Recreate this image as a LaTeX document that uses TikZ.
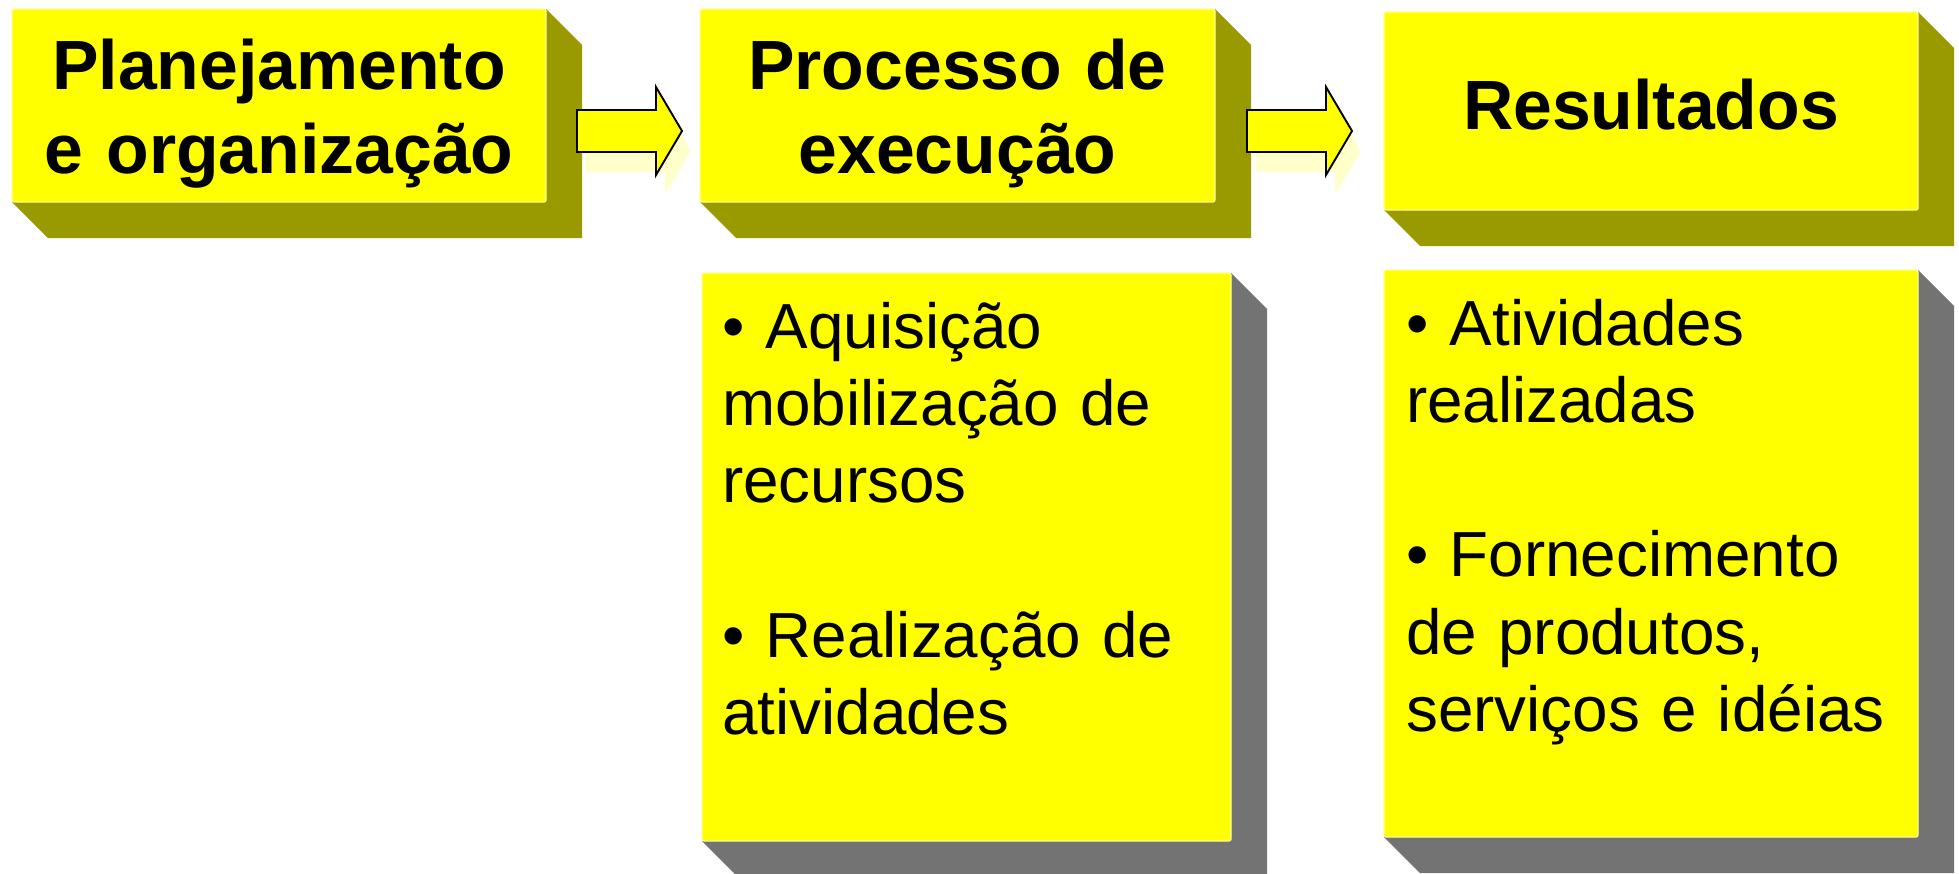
\documentclass[tikz,border=0pt]{standalone}
\usepackage{fontspec}
\setmainfont{Liberation Sans}
\definecolor{olivedepth}{HTML}{999900}
\definecolor{greydepth}{HTML}{737373}
\definecolor{faceyellow}{HTML}{FFFF00}
\definecolor{edgeyellow}{HTML}{FFFF99}
\definecolor{arrowshade}{HTML}{FFFFCC}
\pgfdeclarelayer{background}
\pgfsetlayers{background,main}
% block arrow outline starting at the middle of the shaft's left end
\newcommand{\blockarrowpath}[3]{([shift={(#2,#3-21)}]#1) -- ++(79,0) -- ++(0,-23) -- ++(26,44) -- ++(-26,44) -- ++(0,-23) -- ++(-79,0) -- cycle}
% 3D depth behind a face node
\newcommand{\depthof}[2]{%
  \begin{pgfonlayer}{background}
    \fill[#2] (#1.north east) -- ([shift={(36,36)}]#1.north east) -- ([shift={(36,36)}]#1.south east)
      -- ([shift={(36,36)}]#1.south west) -- (#1.south west) -- (#1.south east) -- cycle;
  \end{pgfonlayer}}
\begin{document}
\begin{tikzpicture}[x=1bp,y=-1bp,
  face/.style={fill=faceyellow, draw=edgeyellow, line width=1.2bp, rounded corners=2bp,
    anchor=north west, inner sep=0, outer sep=0},
  headtext/.style={font=\bfseries\fontsize{70}{85}\selectfont, align=center, text width=530bp,
    inner sep=0, anchor=base},
  bodytext/.style={font=\fontsize{64}{77.5}\selectfont, align=left, text width=505bp,
    inner sep=0, anchor=base west},
  arrowbody/.style={fill=faceyellow, draw=black, line width=1.9bp, line join=miter},
  arrowshadow/.style={fill=arrowshade}]
\useasboundingbox (0,0) rectangle (1959,874);

% arrow positions
\coordinate (a1) at (577,131);
\coordinate (a2) at (1247,131);
\begin{pgfonlayer}{background}
  \fill[arrowshadow] \blockarrowpath{a1}{9}{20};
  \fill[arrowshadow] \blockarrowpath{a2}{9}{20};
\end{pgfonlayer}

% faces
\node[face, minimum width=534bp, minimum height=193bp] (b1) at (12,9) {};
\node[face, minimum width=515bp, minimum height=193bp] (b2) at (700,9) {};
\node[face, minimum width=534bp, minimum height=198bp] (b3) at (1384,12) {};
\node[face, minimum width=529bp, minimum height=568bp] (b4) at (702,273) {};
\node[face, minimum width=534bp, minimum height=567bp] (b5) at (1384,270) {};

\depthof{b1}{olivedepth}
\depthof{b2}{olivedepth}
\depthof{b3}{olivedepth}
\depthof{b4}{greydepth}
\depthof{b5}{greydepth}

% headings
\node[headtext] (t1) at ([shift={(0,80)}]b1.north) {Planejamento\\e organização};
\node[headtext] (t2) at ([shift={(0,80)}]b2.north) {Processo de\\execução};
\node[headtext] (t3) at ([shift={(0,117)}]b3.north) {Resultados};

% bullet texts
\node[bodytext] (t4) at ([shift={(20,75)}]b4.north west)
  {• Aquisição\\mobilização de\\recursos\\[77.5bp]• Realização de\\atividades};
\node[bodytext] (t5) at ([shift={(22,75)}]b5.north west)
  {• Atividades\\realizadas\\[77.5bp]• Fornecimento\\de produtos,\\serviços e idéias};

% arrows
\draw[arrowbody] \blockarrowpath{a1}{0}{0};
\draw[arrowbody] \blockarrowpath{a2}{0}{0};
\end{tikzpicture}
\end{document}
